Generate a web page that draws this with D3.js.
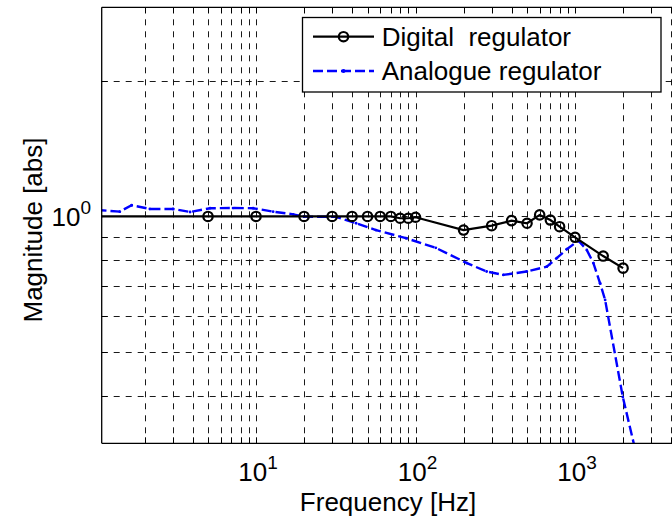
<!DOCTYPE html>
<html>
<head>
<meta charset="utf-8">
<script src="https://cdn.jsdelivr.net/npm/d3@7"></script>
<style>
  body { margin: 0; background: #fff; }
  svg { display: block; }
  text { font-family: "Liberation Sans", Arial, Helvetica, sans-serif; fill: #000; }
</style>
</head>
<body>
<svg id="chart" width="672" height="523"></svg>
<script>
// Measured frequency response of the two regulators (magnitude, absolute)
const digitalFreq = [1, 5, 10, 20, 30, 40, 50, 60, 70, 80, 90, 100, 200, 300, 400, 500, 600, 700, 800, 1000, 1500, 2000];
const digitalMag  = [1.0, 1.0, 1.0, 1.0, 1.0, 1.0, 1.0, 1.0, 1.0, 0.991, 0.991, 0.996, 0.933, 0.954, 0.979, 0.966, 1.008, 0.982, 0.949, 0.899, 0.817, 0.768];

const analogueFreq = [1.0, 1.40, 1.66, 2.16, 3.02, 3.86, 5.15, 7.18, 9.58, 12.8, 17.1, 20, 31.7, 42.4, 56.5, 87.1, 134, 210, 279, 355, 498, 665, 767, 887, 1050, 1184, 1303, 1435, 1543, 1991, 2560];
const analogueMag  = [1.034, 1.025, 1.059, 1.039, 1.039, 1.023, 1.043, 1.044, 1.043, 1.025, 1.011, 0.999, 0.998, 0.966, 0.933, 0.895, 0.852, 0.788, 0.755, 0.742, 0.755, 0.774, 0.808, 0.846, 0.884, 0.843, 0.788, 0.711, 0.653, 0.398, 0.273];

const xTickValues = [10, 100, 1000];
const xTickExponents = ["1", "2", "3"];
const yTickValues = [1];
const yTickExponents = ["0"];

const seriesNames = ["Digital  regulator", "Analogue regulator"];
const xDomain = [1.078, 4170];
const yDomain = [0.314, 2.91];

const svg = d3.select("#chart");
const plot = { left: 101.7, right: 674, top: 7.3, bottom: 443.3 };

const x = d3.scaleLog().domain(xDomain).range([plot.left, plot.right]);
const y = d3.scaleLog().domain(yDomain).range([plot.bottom, plot.top]);

// decade grid values: 1..9 x 10^n inside the domain
function logGrid(domain) {
  const out = [];
  for (let e = -2; e <= 5; e++) {
    for (let m = 1; m <= 9; m++) {
      const v = m * Math.pow(10, e);
      if (v > domain[0] * 1.0001 && v < domain[1] * 0.9999) out.push(v);
    }
  }
  return out;
}
const xGrid = logGrid(xDomain);
const yGrid = logGrid(yDomain);

svg.append("defs").append("clipPath").attr("id", "plotClip")
  .append("rect")
  .attr("x", plot.left).attr("y", plot.top)
  .attr("width", plot.right - plot.left).attr("height", plot.bottom - plot.top);

// grid
const grid = svg.append("g").attr("stroke", "#000").attr("stroke-width", 0.9)
  .attr("stroke-dasharray", "6,6").attr("fill", "none");
grid.selectAll("line.vx").data(xGrid).join("line")
  .attr("x1", d => Math.round(x(d)) + 0.5).attr("x2", d => Math.round(x(d)) + 0.5)
  .attr("y1", plot.top).attr("y2", plot.bottom);
grid.selectAll("line.hy").data(yGrid).join("line")
  .attr("y1", d => Math.round(y(d)) + 0.5).attr("y2", d => Math.round(y(d)) + 0.5)
  .attr("x1", plot.left).attr("x2", plot.right);

// data
const data = svg.append("g").attr("clip-path", "url(#plotClip)");
const digital = digitalFreq.map((f, i) => [f, digitalMag[i]]);
const analogue = analogueFreq.map((f, i) => [f, analogueMag[i]]);
const line = d3.line().x(d => x(d[0])).y(d => y(d[1]));

data.append("path").datum(analogue)
  .attr("d", line).attr("fill", "none")
  .attr("stroke", "#0000ff").attr("stroke-width", 2.4)
  .attr("stroke-dasharray", "10,4");
data.selectAll("circle.adot").data(analogue).join("circle")
  .attr("cx", d => x(d[0])).attr("cy", d => y(d[1])).attr("r", 1.4)
  .attr("fill", "#0000ff");

data.append("path").datum(digital)
  .attr("d", line).attr("fill", "none")
  .attr("stroke", "#000").attr("stroke-width", 2.2);
data.selectAll("circle.dmark").data(digital).join("circle")
  .attr("cx", d => x(d[0])).attr("cy", d => y(d[1])).attr("r", 4.7)
  .attr("fill", "none").attr("stroke", "#000").attr("stroke-width", 2.2);

// axes box and inward ticks
const axes = svg.append("g").attr("stroke", "#000").attr("fill", "none");
axes.append("line").attr("x1", plot.left).attr("x2", plot.right)
  .attr("y1", plot.top).attr("y2", plot.top).attr("stroke-width", 1.3);
axes.append("line").attr("x1", plot.left).attr("x2", plot.right)
  .attr("y1", plot.bottom).attr("y2", plot.bottom).attr("stroke-width", 1.3);
axes.append("line").attr("x1", plot.left).attr("x2", plot.left)
  .attr("y1", plot.top).attr("y2", plot.bottom).attr("stroke-width", 1.3);

const tickLen = 6;
axes.selectAll("line.tb").data(xGrid).join("line")
  .attr("x1", d => Math.round(x(d)) + 0.5).attr("x2", d => Math.round(x(d)) + 0.5)
  .attr("y1", plot.bottom).attr("y2", plot.bottom - tickLen).attr("stroke-width", 1);
axes.selectAll("line.tt").data(xGrid).join("line")
  .attr("x1", d => Math.round(x(d)) + 0.5).attr("x2", d => Math.round(x(d)) + 0.5)
  .attr("y1", plot.top).attr("y2", plot.top + tickLen).attr("stroke-width", 1);
axes.selectAll("line.tl").data(yGrid).join("line")
  .attr("y1", d => Math.round(y(d)) + 0.5).attr("y2", d => Math.round(y(d)) + 0.5)
  .attr("x1", plot.left).attr("x2", plot.left + tickLen).attr("stroke-width", 1);

// tick labels with superscript exponents
const xLabels = svg.append("g");
xTickValues.forEach((v, i) => {
  const t = xLabels.append("text")
    .attr("x", x(v) + 2).attr("y", 480.5)
    .attr("text-anchor", "middle").attr("font-size", 26);
  t.append("tspan").text("10");
  t.append("tspan").attr("font-size", 19).attr("dy", -12).text(xTickExponents[i]);
});
yTickValues.forEach((v, i) => {
  const t = svg.append("text")
    .attr("x", 91).attr("y", y(v) + 10)
    .attr("text-anchor", "end").attr("font-size", 26);
  t.append("tspan").text("10");
  t.append("tspan").attr("font-size", 19).attr("dy", -12).text(yTickExponents[i]);
});

// axis titles
svg.append("text").attr("x", 388).attr("y", 511)
  .attr("text-anchor", "middle").attr("font-size", 26).text("Frequency [Hz]");
svg.append("text")
  .attr("transform", "translate(41.5,230) rotate(-90)")
  .attr("text-anchor", "middle").attr("font-size", 26).text("Magnitude [abs]");

// legend
const lg = svg.append("g");
lg.append("rect").attr("x", 302.5).attr("y", 17.5).attr("width", 358.5).attr("height", 74.5)
  .attr("fill", "#fff").attr("stroke", "#000").attr("stroke-width", 1.3);
const rows = [36.7, 71];
lg.append("line").attr("x1", 313).attr("x2", 374).attr("y1", rows[0]).attr("y2", rows[0])
  .attr("stroke", "#000").attr("stroke-width", 2.2);
lg.append("circle").attr("cx", 343.5).attr("cy", rows[0]).attr("r", 4.7)
  .attr("fill", "none").attr("stroke", "#000").attr("stroke-width", 2.2);
lg.append("line").attr("x1", 313).attr("x2", 374).attr("y1", rows[1]).attr("y2", rows[1])
  .attr("stroke", "#0000ff").attr("stroke-width", 2.4).attr("stroke-dasharray", "10,4");
lg.append("circle").attr("cx", 343.5).attr("cy", rows[1]).attr("r", 2).attr("fill", "#0000ff");
seriesNames.forEach((name, i) => {
  lg.append("text").attr("x", 381.7).attr("y", rows[i] + 9.2)
    .attr("font-size", 26).style("white-space", "pre").text(name);
});
</script>
</body>
</html>
